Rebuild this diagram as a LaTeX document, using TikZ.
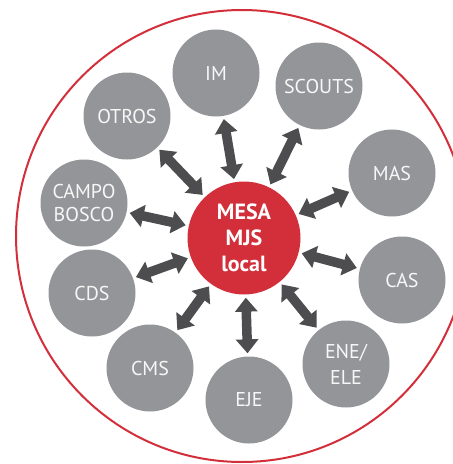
\documentclass[tikz,border=0pt]{standalone}
\usepackage{fontspec}
\setmainfont{PT Sans}
\usetikzlibrary{arrows.meta}
\definecolor{mesared}{RGB}{211,47,58}
\definecolor{groupgray}{RGB}{147,149,152}
\definecolor{linkgray}{RGB}{77,77,79}

\begin{document}
\begin{tikzpicture}[x=1pt, y=-1pt]
  \tikzstyle{group} = [circle, minimum size=87pt, inner sep=0pt, fill=groupgray, text=white!94!gray, align=center, font=\fontsize{20}{23}\selectfont]
  \tikzstyle{mesa} = [circle, minimum size=113pt, inner sep=0pt, fill=mesared, text=white, align=center, font=\bfseries\fontsize{22}{26}\selectfont]
  \tikzstyle{link} = [line width=9.5pt, draw=linkgray, {Triangle[width=22pt,length=14pt]}-{Triangle[width=22pt,length=14pt]}, shorten <=3pt, shorten >=3pt]
  \useasboundingbox (0,0) rectangle (453,464);
  \clip (0,0) rectangle (453,464);
  \draw [mesared, line width=2pt] (242,236) circle (226pt);
  % centre
  \node (mesa) [mesa] at (244,238) {MESA\\MJS\\local};
  % groups around
  \node (im) [group] at (216,73) {IM};
  \node (scouts) [group] at (319,86) {SCOUTS};
  \node (otros) [group] at (127,116) {OTROS};
  \node (mas) [group] at (392,173) {MAS};
  \node (campo) [group] at (84,203) {CAMPO\\BOSCO};
  \node (cas) [group] at (402,280) {CAS};
  \node (cds) [group] at (92,293) {CDS};
  \node (cms) [group] at (150,368) {CMS};
  \node (eje) [group] at (249,400) {EJE};
  \node (ene) [group, font=\fontsize{20}{26}\selectfont] at (346,364) {ENE/\\ELE};
  % links
  \draw [link] (im) -- (mesa);
  \draw [link] (scouts) -- (mesa);
  \draw [link] (otros) -- (mesa);
  \draw [link] (mas) -- (mesa);
  \draw [link] (campo) -- (mesa);
  \draw [link] (cas) -- (mesa);
  \draw [link] (cds) -- (mesa);
  \draw [link] (cms) -- (mesa);
  \draw [link] (eje) -- (mesa);
  \draw [link] (ene) -- (mesa);
\end{tikzpicture}
\end{document}
